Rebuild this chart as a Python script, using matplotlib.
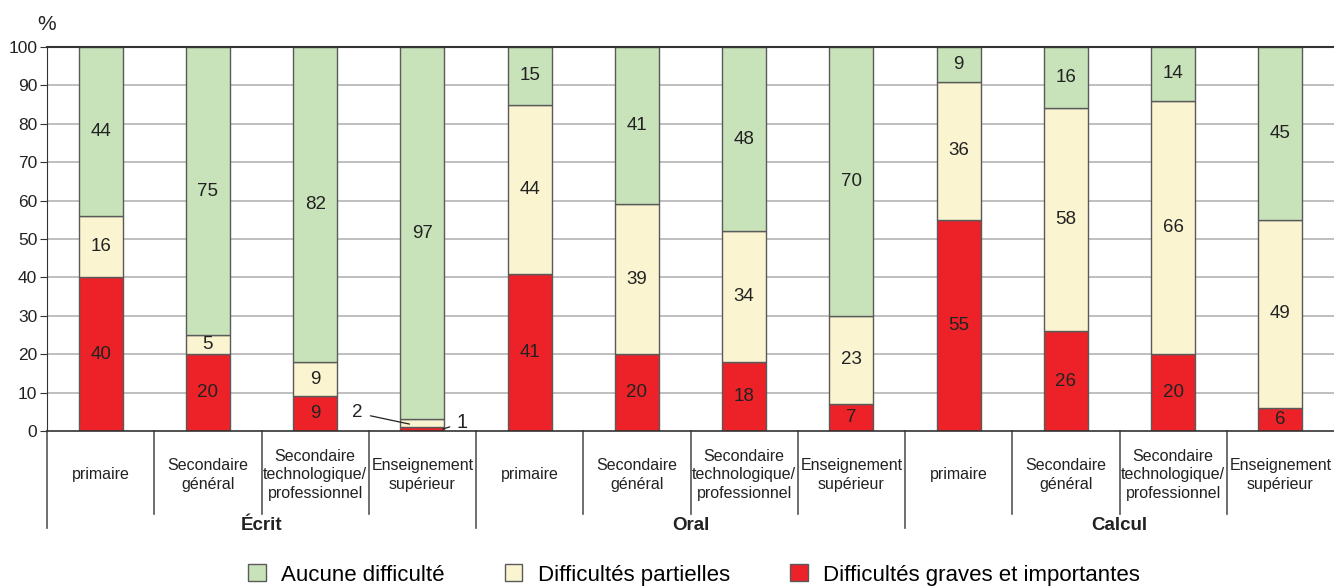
import matplotlib
matplotlib.use("Agg")
import matplotlib.pyplot as plt
import matplotlib.transforms as mtransforms
from matplotlib.patches import Patch
import numpy as np

plt.rcParams["font.family"] = ["Liberation Sans", "DejaVu Sans"]

# ── Data ──────────────────────────────────────────────────────────────────────
GROUPS = ["Écrit", "Oral", "Calcul"]
LEVELS = ["primaire", "Secondaire\ngénéral",
          "Secondaire\ntechnologique/\nprofessionnel",
          "Enseignement\nsupérieur"]
graves     = [40, 20, 9, 1,   41, 20, 18, 7,   55, 26, 20, 6]
partielles = [16, 5, 9, 2,    44, 39, 34, 23,  36, 58, 66, 49]
aucune     = [44, 75, 82, 97, 15, 41, 48, 70,  9, 16, 14, 45]

SERIES = ["Aucune difficulté", "Difficultés partielles",
          "Difficultés graves et importantes"]
COLORS = {"Aucune difficulté": "#C8E3B9",
          "Difficultés partielles": "#FAF4D0",
          "Difficultés graves et importantes": "#EC2228"}
EDGE = "#5a5a5a"

# ── Figure ────────────────────────────────────────────────────────────────────
W, H = 1334, 586
fig = plt.figure(figsize=(W / 100, H / 100), dpi=100)
ax = fig.add_axes([47 / W, (H - 431) / H, 1287 / W, 384 / H])

n = len(graves)
x = np.arange(n)
bw = 0.41

ax.set_xlim(-0.5, n - 0.5)
ax.set_ylim(0, 100)
for yv in range(10, 100, 10):
    ax.axhline(yv, color="#b4b4b4", lw=1.2, zorder=0)

bottom = np.zeros(n)
for vals, name in [(graves, SERIES[2]), (partielles, SERIES[1]), (aucune, SERIES[0])]:
    vals = np.array(vals, dtype=float)
    ax.bar(x, vals, bottom=bottom, width=bw, color=COLORS[name],
           edgecolor=EDGE, linewidth=1.0, zorder=2)
    for i, (v, b) in enumerate(zip(vals, bottom)):
        if v >= 4:
            ax.text(i, b + v / 2, f"{int(v)}", ha="center", va="center",
                    fontsize=13.5, color="#222222", zorder=3)
    bottom += vals

# small values for Écrit / Enseignement supérieur, labelled outside the bar
ax.annotate("2", xy=(2.88, 1.8), xytext=(2.39, 4.7), fontsize=13.5,
            ha="center", va="center", color="#222222",
            arrowprops=dict(arrowstyle="-", color="#222222", lw=0.9,
                            shrinkA=4, shrinkB=0))
ax.annotate("1", xy=(3.19, 0.5), xytext=(3.37, 2.1), fontsize=14.5,
            ha="center", va="center", color="#222222",
            arrowprops=dict(arrowstyle="-", color="#222222", lw=0.9,
                            shrinkA=3, shrinkB=0))

# axes styling
ax.spines["right"].set_visible(False)
ax.spines["top"].set_color("#333333")
ax.spines["top"].set_linewidth(1.5)
ax.spines["left"].set_color("#333333")
ax.spines["bottom"].set_color("#333333")
ax.spines["bottom"].set_linewidth(1.2)
ax.set_yticks(range(0, 101, 10))
ax.tick_params(axis="y", labelsize=12.5, length=5, color="#333333",
               labelcolor="#222222", pad=2)
ax.set_xticks([])
fig.text(47 / W, 1 - 25 / H, "%", fontsize=15, ha="center", va="center",
         color="#222222")

# category axis below the bars
trans = mtransforms.blended_transform_factory(ax.transData, ax.transAxes)
px = 1 / 384  # one pixel in axes fraction
for i in range(n):
    ax.text(i, -(475 - 431) * px, LEVELS[i % 4], transform=trans,
            ha="center", va="center", fontsize=11.5, color="#222222",
            linespacing=1.3)
for k in range(n):
    xb = k - 0.5
    y_end = -(528 - 431) * px if k % 4 == 0 else -(514 - 431) * px
    ax.plot([xb, xb], [0, y_end], transform=trans, color="#555555",
            lw=1.2, clip_on=False)
for g, name in enumerate(GROUPS):
    ax.text(g * 4 + 1.5, -(525 - 431) * px, name, transform=trans,
            ha="center", va="center", fontsize=13.5, fontweight="bold",
            color="#222222")

# legend
handles = [Patch(facecolor=COLORS[s], edgecolor=EDGE, label=s) for s in SERIES]
fig.legend(handles=handles, loc="center", bbox_to_anchor=(694 / W, 1 - 575 / H),
           ncol=3, frameon=False, fontsize=16, handlelength=0.8, handleheight=0.8,
           columnspacing=2.7, handletextpad=0.7, borderpad=0)

fig.savefig("out.png", dpi=100)
